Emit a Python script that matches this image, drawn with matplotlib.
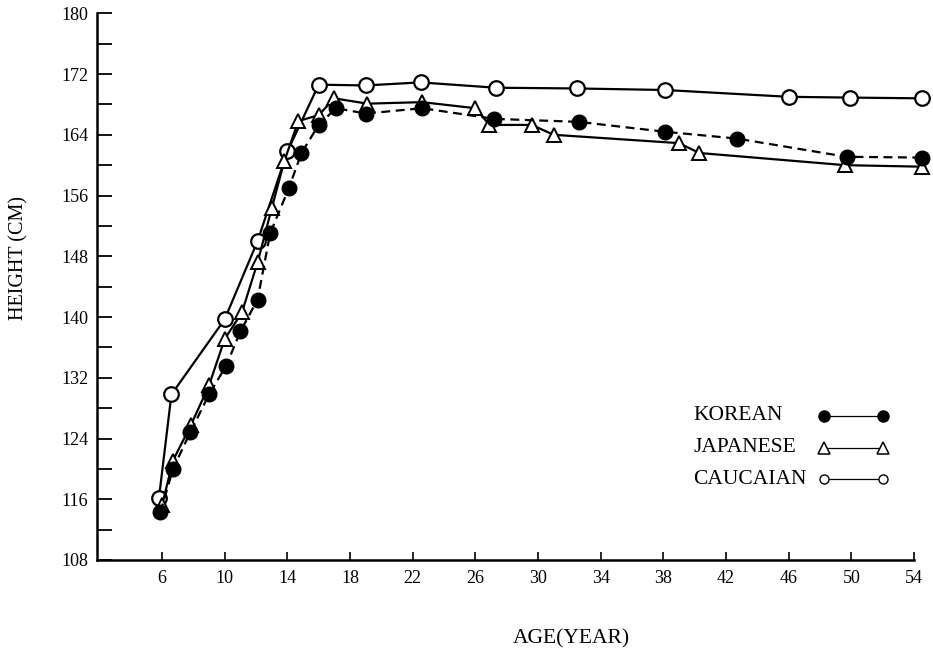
import matplotlib
matplotlib.use("Agg")
import matplotlib.pyplot as plt
import numpy as np

# ---- data ----
cauc_age = [5.8, 6.6, 10.0, 12.1, 14.0, 16.0, 19.0, 22.5, 27.3, 32.5, 38.1, 46.0, 49.9, 54.5]
cauc_h = [116.1, 129.8, 139.7, 150.0, 161.8, 170.6, 170.5, 170.9, 170.2, 170.1, 169.9, 169.0, 168.9, 168.8]

jap_age = [6.0, 6.7, 7.85, 9.0, 10.0, 11.1, 12.1, 13.0, 13.8, 14.7, 16.0, 17.0, 19.1, 22.6,
           26.0, 26.9, 29.6, 31.0, 39.0, 40.3, 49.6, 54.5]
jap_h = [115.2, 121.1, 125.8, 131.0, 137.1, 140.6, 147.2, 154.3, 160.5, 165.8, 166.6, 168.8, 168.1, 168.3,
         167.5, 165.3, 165.3, 164.0, 162.9, 161.6, 160.0, 159.8]

kor_age = [5.9, 6.7, 7.8, 9.0, 10.1, 11.0, 12.1, 12.9, 14.1, 14.9, 16.0, 17.1, 19.0, 22.6,
           27.2, 32.6, 38.1, 42.7, 49.7, 54.5]
kor_h = [114.3, 120.0, 124.8, 129.8, 133.6, 138.1, 142.3, 151.0, 157.0, 161.6, 165.3, 167.5, 166.8, 167.5,
         166.1, 165.7, 164.4, 163.5, 161.1, 161.0]

x_ticks = [6, 10, 14, 18, 22, 26, 30, 34, 38, 42, 46, 50, 54]
y_ticks = [108, 116, 124, 132, 140, 148, 156, 164, 172, 180]
legend_labels = ["KOREAN", "JAPANESE", "CAUCAIAN"]

plt.rcParams['font.family'] = ['Liberation Serif', 'DejaVu Serif']

W, H = 933, 652
fig = plt.figure(figsize=(W / 100, H / 100), dpi=100)
ax = fig.add_axes([96.7 / W, 1 - 560 / H, (914 - 96.7) / W, (560 - 13.3) / H])

ax.set_xlim(1.83, 54)
ax.set_ylim(108, 180)

lw = 1.6
ax.plot(cauc_age, cauc_h, '-', color='black', lw=lw, marker='o', ms=10.5,
        mfc='white', mec='black', mew=1.6, clip_on=False, zorder=3)
ax.plot(jap_age, jap_h, '-', color='black', lw=lw, marker='^', ms=9.5,
        mfc='white', mec='black', mew=1.4, clip_on=False, zorder=4)
ax.plot(kor_age, kor_h, '--', color='black', lw=lw, dashes=(4, 2.5), marker='o', ms=10.5,
        mfc='black', mec='black', clip_on=False, zorder=5)

for s in ['top', 'right']:
    ax.spines[s].set_visible(False)
for s in ['left', 'bottom']:
    ax.spines[s].set_linewidth(1.8)

ax.set_xticks(x_ticks)
ax.set_xticklabels([str(t) for t in x_ticks])
ax.set_yticks(y_ticks)
ax.set_yticklabels([str(t) for t in y_ticks])
ax.set_yticks(np.arange(112, 180, 8), minor=True)
ax.tick_params(axis='y', which='both', direction='in', length=11, width=1.3, labelsize=13, pad=6)
ax.tick_params(axis='x', which='both', direction='in', length=6, width=1.2, labelsize=13, pad=7)

fig.text(19 / W, 1 - 258 / H, "HEIGHT (CM)", rotation=90, ha='center', va='center', fontsize=14.5)
fig.text(571 / W, 1 - 639 / H, "AGE(YEAR)", ha='center', va='center', fontsize=15.5)

# manual legend (text on left, key on right)
rows_y = [0.2634, 0.2049, 0.148]
keys = [dict(marker='o', ms=8, mfc='black', mec='black'),
        dict(marker='^', ms=8.5, mfc='white', mec='black', mew=1.1),
        dict(marker='o', ms=6.5, mfc='white', mec='black', mew=1.0)]
for lab, yy, k in zip(legend_labels, rows_y, keys):
    ax.text(0.7296, yy, lab, transform=ax.transAxes, ha='left', va='center', fontsize=15.5)
    ax.plot([0.8893, 0.962], [yy, yy], '-', color='black', lw=0.9,
            transform=ax.transAxes, clip_on=False, **k)

fig.savefig("out.png", dpi=100)
